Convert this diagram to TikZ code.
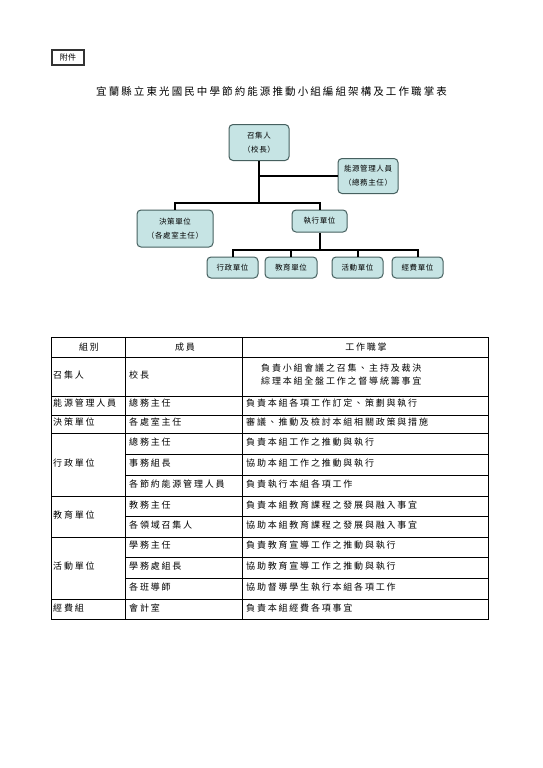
\documentclass[tikz,border=0pt]{standalone}
\usepackage{fontspec}
\setmainfont{Noto Sans CJK TC}
\definecolor{boxfill}{HTML}{C6E4E4}
\definecolor{boxline}{HTML}{46605F}
\makeatletter
\newcommand\spc[2]{\@tfor\chx:=#2\do{\chx\hskip#1\relax}\unskip}
\makeatother
\newcommand\tx[1]{\spc{1.8pt}{#1}}
\newcommand\bx[1]{\spc{0.6pt}{#1}}
\begin{document}
\begin{tikzpicture}[x=1pt,y=-1pt,
  orgbox/.style={draw=boxline,line width=1pt,fill=boxfill,rounded corners=4pt,
    inner sep=0pt,align=center,font={\fontsize{7.5}{14}\selectfont}},
  conn/.style={line width=2pt,black},
  grid/.style={line width=0.9pt,black},
  cell/.style={inner sep=0pt,anchor=west,font={\fontsize{9}{13}\selectfont}},
  hcell/.style={inner sep=0pt,font={\fontsize{9}{13}\selectfont}}]
\useasboundingbox[fill=white] (0,0) rectangle (543,768);

% attachment tag
\node[draw=black!80,line width=1.2pt,minimum width=32pt,minimum height=15pt,inner sep=0pt,
  font={\fontsize{8}{10}\selectfont}] (tag) at (68,57.5) {\spc{0.5pt}{附件}};

% title
\node[inner sep=0pt,font={\fontsize{10.5}{14}\selectfont}] (title) at (271.5,92) {\spc{2.1pt}{宜蘭縣立東光國民中學節約能源推動小組編組架構及工作職掌表}};

% org chart
\node[orgbox,minimum width=60pt,minimum height=36pt] (zhao) at (259,142.5) {\bx{召集人}\\\bx{（校長）}};
\node[orgbox,minimum width=60pt,minimum height=35pt] (neng) at (368,176) {\bx{能源管理人員}\\\bx{（總務主任）}};
\node[orgbox,minimum width=76pt,minimum height=37pt] (jue) at (175,228.5) {\bx{決策單位}\\\bx{（各處室主任）}};
\node[orgbox,minimum width=55pt,minimum height=22pt] (zhi) at (319.5,221) {\bx{執行單位}};
\node[orgbox,minimum width=51pt,minimum height=21pt] (xz) at (232.5,267.5) {\bx{行政單位}};
\node[orgbox,minimum width=52pt,minimum height=21pt] (jy) at (291,267.5) {\bx{教育單位}};
\node[orgbox,minimum width=51pt,minimum height=21pt] (hd) at (357.5,267.5) {\bx{活動單位}};
\node[orgbox,minimum width=51pt,minimum height=21pt] (jf) at (417.5,267.5) {\bx{經費單位}};

\coordinate (b1) at (259,203);
\coordinate (b2) at (319.5,250);
\draw[conn] (zhao.south) -- (b1);
\draw[conn] (zhao.south |- neng.west) -- (neng.west);
\draw[conn] (jue.north) |- (b1) -| (zhi.north);
\draw[conn] (zhi.south) -- (b2);
\draw[conn] (xz.north) |- (b2) -| (jf.north);
\draw[conn] (jy.north) -- (jy.north |- b2);
\draw[conn] (hd.north) -- (hd.north |- b2);

% table grid
\draw[grid] (51,337) rectangle (488,619);
\draw[grid] (125,337) -- (125,619);
\draw[grid] (242,337) -- (242,619);
\foreach \yy in {357,396,415,433,496,537,599} \draw[grid] (51,\yy) -- (488,\yy);
\foreach \yy in {454,475,516,557,578} \draw[grid] (125,\yy) -- (488,\yy);

% header
\node[hcell] (h1) at (89,347.5) {\tx{組別}};
\node[hcell] (h2) at (185,347.5) {\tx{成員}};
\node[hcell] (h3) at (366,347.5) {\tx{工作職掌}};

% rows
\node[cell] (r1a) at (53,375) {\tx{召集人}};
\node[cell] (r1b) at (129,375) {\tx{校長}};
\node[cell] (r1c) at (261,368) {\tx{負責小組會議之召集、主持及裁決}};
\node[cell] (r1d) at (261,381) {\tx{綜理本組全盤工作之督導統籌事宜}};

\node[cell] (r2a) at (53,403) {\tx{能源管理人員}};
\node[cell] (r2b) at (129,403) {\tx{總務主任}};
\node[cell] (r2c) at (246,403) {\tx{負責本組各項工作訂定、策劃與執行}};

\node[cell] (r3a) at (53,422) {\tx{決策單位}};
\node[cell] (r3b) at (129,422) {\tx{各處室主任}};
\node[cell] (r3c) at (246,422) {\tx{審議、推動及檢討本組相關政策與措施}};

\node[cell] (r4a) at (53,463) {\tx{行政單位}};
\node[cell] (r4b) at (129,442) {\tx{總務主任}};
\node[cell] (r4c) at (246,442) {\tx{負責本組工作之推動與執行}};
\node[cell] (r5b) at (129,463) {\tx{事務組長}};
\node[cell] (r5c) at (246,463) {\tx{協助本組工作之推動與執行}};
\node[cell] (r6b) at (129,484) {\tx{各節約能源管理人員}};
\node[cell] (r6c) at (246,484) {\tx{負責執行本組各項工作}};

\node[cell] (r7a) at (53,515) {\tx{教育單位}};
\node[cell] (r7b) at (129,505) {\tx{教務主任}};
\node[cell] (r7c) at (246,505) {\tx{負責本組教育課程之發展與融入事宜}};
\node[cell] (r8b) at (129,525) {\tx{各領域召集人}};
\node[cell] (r8c) at (246,525) {\tx{協助本組教育課程之發展與融入事宜}};

\node[cell] (r9a) at (53,566) {\tx{活動單位}};
\node[cell] (r9b) at (129,545) {\tx{學務主任}};
\node[cell] (r9c) at (246,545) {\tx{負責教育宣導工作之推動與執行}};
\node[cell] (r10b) at (129,566) {\tx{學務處組長}};
\node[cell] (r10c) at (246,566) {\tx{協助教育宣導工作之推動與執行}};
\node[cell] (r11b) at (129,587) {\tx{各班導師}};
\node[cell] (r11c) at (246,587) {\tx{協助督導學生執行本組各項工作}};

\node[cell] (r12a) at (53,608) {\tx{經費組}};
\node[cell] (r12b) at (129,608) {\tx{會計室}};
\node[cell] (r12c) at (246,608) {\tx{負責本組經費各項事宜}};
\end{tikzpicture}
\end{document}
